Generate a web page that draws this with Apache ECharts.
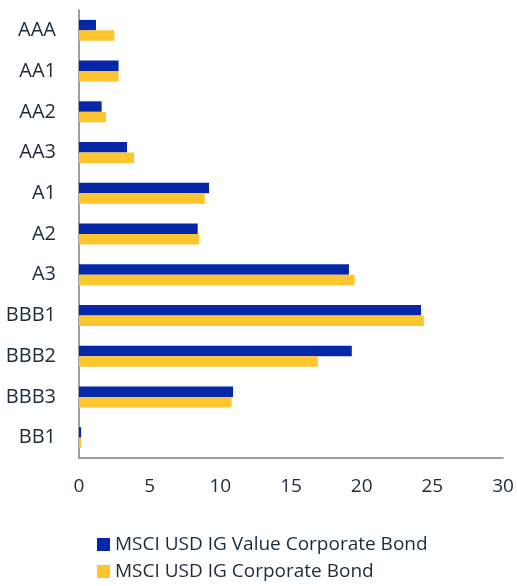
<!DOCTYPE html>
<html>
<head>
<meta charset="utf-8">
<script src="https://cdn.jsdelivr.net/npm/echarts@6/dist/echarts.min.js"></script>
<style>
  html, body { margin: 0; padding: 0; background: #fff; }
  #chart { width: 517px; height: 586px; }
</style>
</head>
<body>
<div id="chart"></div>
<script>
  const ratings = ['AAA', 'AA1', 'AA2', 'AA3', 'A1', 'A2', 'A3', 'BBB1', 'BBB2', 'BBB3', 'BB1'];
  const valueBond = [1.2, 2.8, 1.6, 3.4, 9.2, 8.4, 19.1, 24.2, 19.3, 10.9, 0.15];
  const coreBond = [2.5, 2.8, 1.9, 3.9, 8.9, 8.5, 19.5, 24.4, 16.9, 10.8, 0.15];
  const xTicks = [0, 5, 10, 15, 20, 25, 30];

  const textColor = '#1a2b3c';
  const font = 'Open Sans';

  let chart = echarts.init(document.getElementById('chart'));

  let option = {
    backgroundColor: '#ffffff',
    animation: false,
    grid: {
      left: 79,
      right: 14,
      top: 10,
      bottom: 128
    },
    legend: {
      orient: 'vertical',
      left: 97,
      top: 535,
      padding: 0,
      itemWidth: 13,
      itemHeight: 13,
      itemGap: 8,
      icon: 'rect',
      textStyle: {
        color: textColor,
        fontFamily: font,
        fontSize: 19
      },
      data: ['MSCI USD IG Value Corporate Bond', 'MSCI USD IG Corporate Bond']
    },
    xAxis: {
      type: 'value',
      min: xTicks[0],
      max: xTicks[xTicks.length - 1],
      interval: 5,
      axisLine: { show: true, lineStyle: { color: '#7f7f7f', width: 1.5 } },
      axisTick: { show: false },
      splitLine: { show: false },
      axisLabel: {
        margin: 19,
        color: textColor,
        fontFamily: font,
        fontSize: 19
      }
    },
    yAxis: {
      type: 'category',
      inverse: true,
      data: ratings,
      axisLine: { show: true, lineStyle: { color: '#7f7f7f', width: 1.5 } },
      axisTick: { show: false },
      axisLabel: {
        margin: 23,
        color: textColor,
        fontFamily: font,
        fontSize: 20
      }
    },
    series: [
      {
        name: 'MSCI USD IG Value Corporate Bond',
        type: 'bar',
        data: valueBond,
        barWidth: 10.5,
        barGap: '0%',
        itemStyle: { color: '#0527a8' }
      },
      {
        name: 'MSCI USD IG Corporate Bond',
        type: 'bar',
        data: coreBond,
        barWidth: 10.5,
        itemStyle: { color: '#ffc52e' }
      }
    ]
  };

  chart.setOption(option);
</script>
</body>
</html>
